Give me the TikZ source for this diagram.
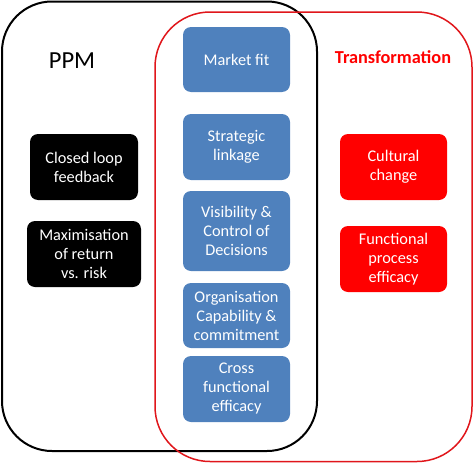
\documentclass[tikz,border=0pt]{standalone}
\usepackage{fontspec}
\setmainfont{Carlito}
\definecolor{boxblue}{HTML}{4F81BD}
\definecolor{pred}{HTML}{FF0000}
\definecolor{ored}{HTML}{E0161B}
\begin{document}
\begin{tikzpicture}[x=1pt,y=-1pt,
  card/.style={rounded corners=8pt, align=center, text=white, font=\fontsize{16.3}{19}\selectfont, inner sep=0pt},
  bluecard/.style={card, fill=boxblue},
  blackcard/.style={card, fill=black},
  redcard/.style={card, fill=pred}]
\useasboundingbox (0,0) rectangle (474,463);
\draw[line width=2pt, black, rounded corners=50pt] (2,1.5) rectangle (317,451);
\draw[line width=1.5pt, ored, rounded corners=55pt] (155,12) rectangle (472,461.5);
\node[font=\fontsize{24.5}{28}\selectfont] (ppm) at (72,61) {PPM};
\node[font=\bfseries\fontsize{18.3}{22}\selectfont, text=pred] (tr) at (393,57) {Transformation};
% blue
\node[bluecard, minimum width=107pt, minimum height=65pt] (mf) at (236.5,59.5) {Market fit};
\node[bluecard, minimum width=107pt, minimum height=66pt] (sl) at (236.5,147) {Strategic\\linkage};
\node[bluecard, minimum width=107pt, minimum height=80pt] (vc) at (236.5,231) {Visibility \&\\Control of\\Decisions};
\node[bluecard, minimum width=107pt, minimum height=65pt] (oc) at (236.5,315.5) {Organisation\\Capability \&\\commitment};
\node[bluecard, minimum width=107pt, minimum height=66pt] (cf) at (236.5,389) {Cross\\functional\\efficacy};
% black
\node[blackcard, minimum width=108pt, minimum height=66pt] (cl) at (84,167) {Closed loop\\feedback};
\node[blackcard, minimum width=114pt, minimum height=66pt] (mx) at (84,254) {Maximisation\\of return\\vs. risk};
% red
\node[redcard, minimum width=107pt, minimum height=66pt] (cc) at (393.5,167) {Cultural\\change};
\node[redcard, minimum width=107pt, minimum height=66pt] (fp) at (393.5,259) {Functional\\process\\efficacy};
\end{tikzpicture}
\end{document}
